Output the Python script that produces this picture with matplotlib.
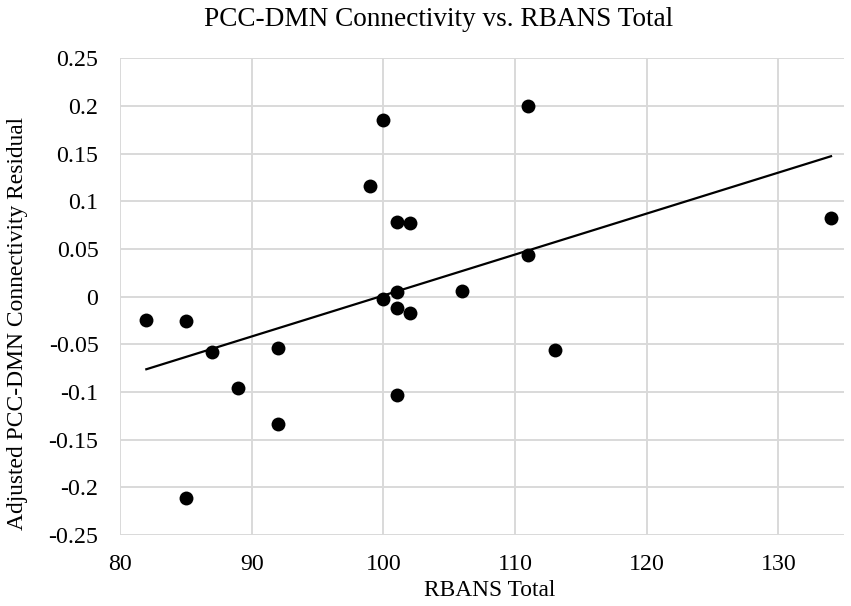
import numpy as np
import matplotlib
matplotlib.use("Agg")
import matplotlib.pyplot as plt

plt.rcParams['font.family'] = ['Liberation Serif', 'DejaVu Serif']

# values
rbans_total = [82, 85, 85, 87, 89, 92, 92, 99, 100, 100, 101,
               101, 101, 101, 102, 102, 106, 111, 111, 113, 134]
pcc_dmn_resid = [-0.024, -0.026, -0.211, -0.058, -0.096, -0.054, -0.134,
                 0.116, 0.185, -0.003, 0.078, 0.005, -0.012, -0.103,
                 0.077, -0.017, 0.006, 0.200, 0.044, -0.056, 0.082]
x_ticks = [80, 90, 100, 110, 120, 130]
y_ticks = [-0.25, -0.2, -0.15, -0.1, -0.05, 0, 0.05, 0.1, 0.15, 0.2, 0.25]
y_tick_labels = ['-0.25', '-0.2', '-0.15', '-0.1', '-0.05', '0',
                 '0.05', '0.1', '0.15', '0.2', '0.25']

fig = plt.figure(figsize=(8.51, 6.06), dpi=100)
ax = fig.add_axes([0.141, 0.117, 0.851, 0.787])

x = np.array(rbans_total, dtype=float)
y = np.array(pcc_dmn_resid)

# linear trendline, as excel draws it (from min to max x)
slope, icpt = np.polyfit(x, y, 1)
xs = np.array([x.min(), x.max()])
ax.plot(xs, slope * xs + icpt, color='black', lw=1.6, zorder=3)

ax.scatter(x, y, s=100, color='black', zorder=4, linewidths=0)

ax.set_xlim(80, 135)
ax.set_ylim(-0.25, 0.25)
ax.set_xticks(x_ticks)
ax.set_yticks(y_ticks)
ax.set_yticklabels(y_tick_labels)
ax.grid(True, color='#d9d9d9', lw=1.4)
ax.set_axisbelow(True)
for s in ax.spines.values():
    s.set_visible(False)
ax.tick_params(length=0, labelsize=17.2, colors='black')
ax.tick_params(axis='x', pad=13.5)
ax.tick_params(axis='y', pad=15.5)

# labels placed in figure coords (excel layout is not centred on the axes)
fig.text(490 / 851, 1 - 591 / 606, 'RBANS Total',
         ha='center', va='center', fontsize=16.8)
fig.text(18 / 851, 1 - 323 / 606, 'Adjusted PCC-DMN Connectivity Residual',
         ha='center', va='center', rotation=90, fontsize=16.9)
fig.text(439 / 851, 1 - 19 / 606, 'PCC-DMN Connectivity vs. RBANS Total',
         ha='center', va='center', fontsize=19.6)

fig.savefig('out.png', dpi=100)
